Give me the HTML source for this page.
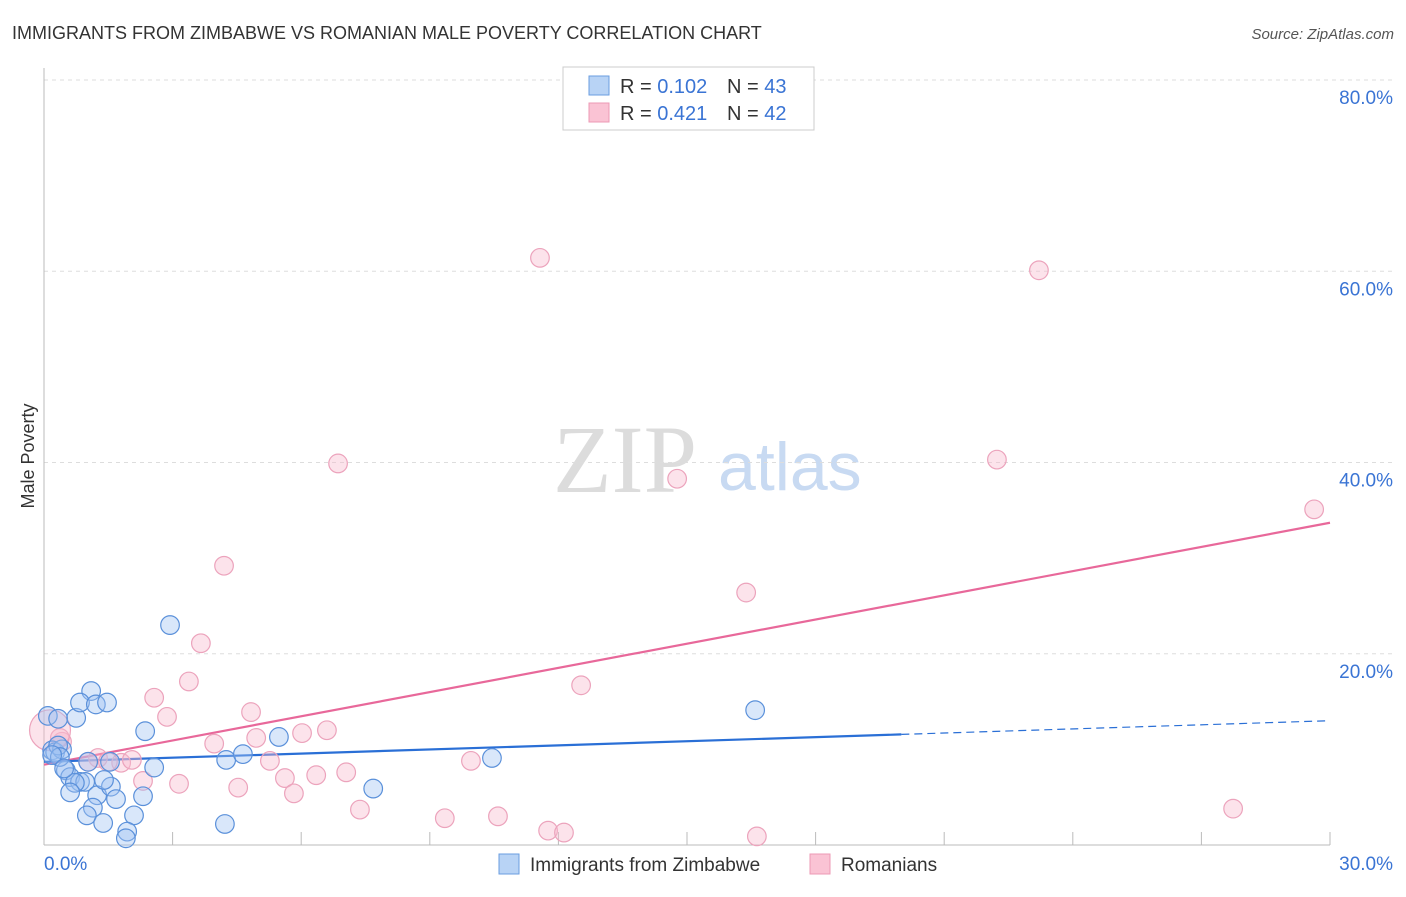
<!DOCTYPE html>
<html><head><meta charset="utf-8"><style>
body{margin:0;background:#fff;font-family:"Liberation Sans",sans-serif;}
</style></head><body>
<svg id="chart" width="1406" height="892" xmlns="http://www.w3.org/2000/svg" font-family="Liberation Sans, sans-serif">
<text x="12" y="39" font-size="18" fill="#333">IMMIGRANTS FROM ZIMBABWE VS ROMANIAN MALE POVERTY CORRELATION CHART</text>
<text x="1394" y="39" font-size="15" fill="#555" font-style="italic" text-anchor="end">Source: ZipAtlas.com</text>
<text x="34" y="456" font-size="18" fill="#333" text-anchor="middle" transform="rotate(-90 34 456)">Male Poverty</text>
<text x="553" y="492" font-size="96" fill="#dcdcdc" style="font-family:'Liberation Serif',serif">ZIP</text>
<text x="718" y="490" font-size="68" fill="#c8daf2">atlas</text>
<g id="grid"></g><g id="axes"></g><g id="lines"></g><g id="points"></g>
<g>
<rect x="563" y="67" width="251" height="63" fill="#fff" stroke="#ccc"/>
<rect x="589" y="76" width="20" height="19" fill="#b8d3f5" stroke="#6a9ee0"/>
<rect x="589" y="103" width="20" height="19" fill="#fac3d4" stroke="#ec9ab5"/>
<text x="620" y="93" font-size="20" fill="#333">R = <tspan fill="#3a74d4">0.102</tspan><tspan x="727">N = </tspan><tspan fill="#3a74d4">43</tspan></text>
<text x="620" y="120" font-size="20" fill="#333">R = <tspan fill="#3a74d4">0.421</tspan><tspan x="727">N = </tspan><tspan fill="#3a74d4">42</tspan></text>
</g>
<g>
<rect x="499" y="854" width="20" height="20" fill="#b8d3f5" stroke="#6a9ee0"/>
<text x="530" y="871" font-size="19" fill="#333">Immigrants from Zimbabwe</text>
<rect x="810" y="854" width="20" height="20" fill="#fac3d4" stroke="#ec9ab5"/>
<text x="841" y="871" font-size="19" fill="#333">Romanians</text>
</g>
</svg>
<script>
const blueX=[0.09,0.33,0.75,1.10,0.84,1.21,1.47,0.19,0.26,0.42,0.51,0.61,0.84,0.96,0.72,0.61,1.24,1.56,1.40,1.68,1.14,1.00,1.38,2.10,1.94,1.91,2.31,2.57,2.36,2.94,4.25,4.64,5.48,4.22,7.68,10.45,16.59,1.03,0.33,0.37,0.19,1.54,0.47];
const blueY=[13.5,13.2,13.3,16.1,14.9,14.7,14.9,9.9,9.7,10.0,7.8,7.1,6.6,6.6,6.5,5.5,5.2,6.1,6.8,4.8,3.9,3.1,2.3,3.1,1.4,0.7,5.1,8.1,11.9,23.0,8.9,9.5,11.3,2.2,5.9,9.1,14.1,8.7,10.4,9.2,9.4,8.7,8.0];
const pinkX=[11.57,23.21,6.86,22.23,14.77,29.63,4.20,16.38,3.66,3.38,2.57,2.87,12.53,4.83,6.02,6.60,4.95,3.97,5.27,4.53,3.15,2.31,5.62,5.83,6.35,7.05,7.37,9.35,9.96,10.59,11.76,12.13,16.63,27.74,1.26,1.03,1.80,2.05,0.42,0.37,0.14,1.49];
const pinkY=[61.4,60.1,39.9,40.3,38.3,35.1,29.2,26.4,21.1,17.1,15.4,13.4,16.7,13.9,11.7,12.0,11.2,10.6,8.8,6.0,6.4,6.7,7.0,5.4,7.3,7.6,3.7,2.8,8.8,3.0,1.5,1.3,0.9,3.8,9.1,8.7,8.6,8.9,10.8,11.2,12.0,8.7];
const pinkSize=[1,1,1,1,1,1,1,1,1,1,1,1,1,1,1,1,1,1,1,1,1,1,1,1,1,1,1,1,1,1,1,1,1,1,1,1,1,1,1,1,2.2,1];
const blueTrend=[8.7,13.0];
const pinkTrend=[8.4,33.7];
const yTicks=[20,40,60,80];
const yTickLabels=["20.0%","40.0%","60.0%","80.0%"];
const xTicks=[3,6,9,12,15,18,21,24,27,30];
const blueSolidEnd=20;

const NS="http://www.w3.org/2000/svg";
const X0=44,X1=1330,Y0=845,Y80=80;
const sx=v=>X0+(X1-X0)*v/30;
const sy=v=>Y0-(Y0-Y80)*v/80;
function mk(tag,attrs,parent){const e=document.createElementNS(NS,tag);for(const k in attrs)e.setAttribute(k,attrs[k]);document.getElementById(parent).appendChild(e);return e;}

yTicks.forEach((t,i)=>{
  const l=mk('line',{x1:X0,x2:1394,y1:sy(t),y2:sy(t),stroke:'#ddd','stroke-dasharray':'4,4'},'grid');
  
  
  const tx=mk('text',{x:1393,y:sy(t)+24,'font-size':19,fill:'#3a74d4','text-anchor':'end'},'grid');
  tx.textContent=yTickLabels[i];
  
  
});
const ya=mk('line',{x1:X0,x2:X0,y1:68,y2:Y0,stroke:'#bbb'},'axes');


const xa=mk('line',{x1:X0,x2:X1,y1:Y0,y2:Y0,stroke:'#bbb'},'axes');


xTicks.forEach(t=>{
  const l=mk('line',{x1:sx(t),x2:sx(t),y1:Y0,y2:Y0-13,stroke:'#bbb'},'axes');
  
  
});
const xl0=mk('text',{x:44,y:870,'font-size':19,fill:'#3a74d4'},'axes');xl0.textContent='0.0%';


const xl1=mk('text',{x:1393,y:870,'font-size':19,fill:'#3a74d4','text-anchor':'end'},'axes');xl1.textContent='30.0%';



function pts(xs,ys,sizes,fill,stroke,name){
  xs.forEach((x,i)=>{
    const c=mk('circle',{cx:sx(x),cy:sy(ys[i]),r:9.3*(sizes?sizes[i]:1),fill:fill,stroke:stroke,'stroke-width':1.2},'points');
    
    
  });
}
pts(pinkX,pinkY,pinkSize,'rgba(248,185,205,0.4)','#eca3bc','point-romanian');
pts(blueX,blueY,null,'rgba(160,195,242,0.4)','#5a90da','point-zimbabwe');

const bAt=x=>blueTrend[0]+(blueTrend[1]-blueTrend[0])*x/30;
const pl=mk('line',{x1:sx(0),y1:sy(pinkTrend[0]),x2:sx(30),y2:sy(pinkTrend[1]),stroke:'#e8689a','stroke-width':2.2},'lines');


const bl=mk('line',{x1:sx(0),y1:sy(bAt(0)),x2:sx(blueSolidEnd),y2:sy(bAt(blueSolidEnd)),stroke:'#2a6fd6','stroke-width':2.2},'lines');


const bd=mk('line',{x1:sx(blueSolidEnd),y1:sy(bAt(blueSolidEnd)),x2:sx(30),y2:sy(bAt(30)),stroke:'#2a6fd6','stroke-width':1.2,'stroke-dasharray':'8,5'},'lines');


</script>
</body></html>
